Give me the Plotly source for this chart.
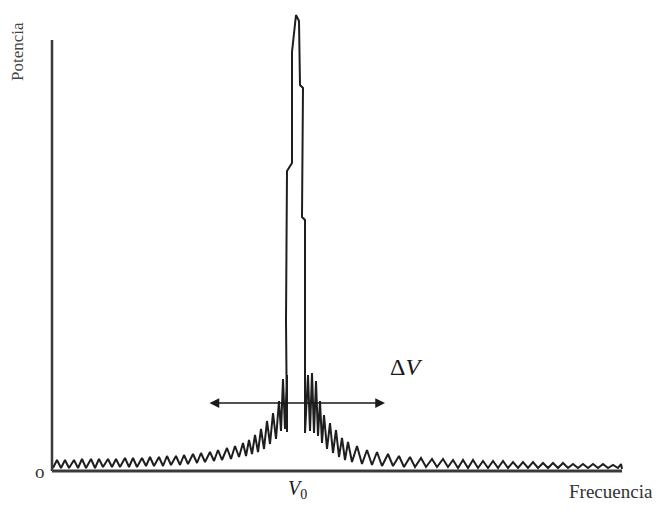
import plotly.graph_objects as go

# Spectrum trace (frequency, power) in arbitrary units
frecuencia = [
    1, 5, 9, 13, 17, 22, 26, 30, 34, 39, 43, 47, 51, 56, 60, 64, 68, 73, 77, 81,
    85, 90, 94, 98, 102, 107, 111, 115, 119, 124, 128, 132, 136, 141, 145, 149,
    153, 158, 162, 166, 170, 175, 179, 183, 187, 191, 194, 197, 200, 203, 206,
    209, 212, 215, 218, 221, 224, 227, 229, 231, 233, 235,
    235, 234, 235, 240, 240, 244, 247, 248, 251, 250, 253, 253,
    256, 258, 260, 262, 264, 266, 268, 270, 272, 275, 278, 281, 284, 287, 290,
    293, 296, 300, 305, 310, 315, 320, 325, 330, 336, 341, 347, 352, 358, 363,
    369, 374, 380, 385, 391, 396, 401, 406, 411, 416, 421, 426, 431, 436, 441,
    446, 451, 456, 461, 466, 471, 476, 481, 486, 491, 496, 501, 506, 511, 516,
    521, 526, 531, 536, 541, 546, 551, 556, 561, 566, 569, 570,
]
potencia = [
    3, 11, 3, 11, 3, 11, 3, 12, 3, 12, 3, 12, 4, 12, 4, 12, 4, 13, 4, 13,
    4, 13, 5, 14, 5, 14, 5, 15, 6, 15, 6, 16, 7, 17, 8, 18,
    9, 19, 10, 21, 11, 23, 12, 25, 14, 28, 15, 31, 17, 36, 19,
    42, 22, 50, 27, 58, 32, 70, 40, 92, 42, 96,
    39, 150, 300, 308, 419, 456, 450, 386, 383, 254, 251, 38,
    96, 40, 98, 38, 90, 35, 70, 28, 56, 22, 48, 18, 41, 14, 33,
    11, 29, 9, 25, 7, 21, 6, 19, 5, 17, 5, 15, 4, 14, 4,
    13, 4, 12, 4, 12, 4, 11, 3, 11, 3, 11, 3, 10, 3, 10,
    3, 10, 3, 9, 3, 9, 3, 9, 3, 8, 3, 8, 3, 8, 3,
    7, 3, 7, 3, 7, 3, 7, 3, 6, 3, 7, 2,
]

# Axis extents and annotation anchors (arbitrary units)
eje_x_max = 570
eje_y_max = 431
delta_v_izq = 156
delta_v_der = 333
delta_v_nivel = 68

fig = go.Figure()
fig.add_trace(go.Scatter(
    x=frecuencia, y=potencia, mode="lines",
    line=dict(color="#1e1e1e", width=2),
    hoverinfo="skip", showlegend=False,
))

# Axes drawn as lines
fig.add_shape(type="line", x0=0, x1=0, y0=0, y1=eje_y_max, xref="x", yref="y",
              line=dict(color="#3a3a3a", width=2.5))
fig.add_shape(type="line", x0=0, x1=eje_x_max, y0=0, y1=0, xref="x", yref="y",
              line=dict(color="#3a3a3a", width=3))

serif = "Liberation Serif"

# Double arrow for ΔV
fig.add_annotation(x=delta_v_der, y=delta_v_nivel, ax=delta_v_izq, ay=delta_v_nivel,
                   xref="x", yref="y", axref="x", ayref="y", text="",
                   showarrow=True, arrowhead=2, arrowside="end+start",
                   arrowsize=1.3, arrowwidth=1.5, arrowcolor="#1a1a1a")

fig.add_annotation(x=354, y=104, xref="x", yref="y", text="Δ<i>V</i>",
                   showarrow=False, font=dict(family=serif, size=24, color="#1a1a1a"))


def px_to_paper(px, py):
    return (px - 47) / 580, (476 - py) / 465


# Texts outside the plot area (paper coordinates)
for text, (px, py), size, color, angle in [
    ("<i>V</i><sub>0</sub>", (297, 489), 20, "#1a1a1a", 0),
    ("Frecuencia", (611, 491), 19, "#333333", 0),
    ("o", (40, 471), 19, "#333333", 0),
    ("Potencia", (18, 52), 17, "#444444", -90),
]:
    xp, yp = px_to_paper(px, py)
    fig.add_annotation(x=xp, y=yp, xref="paper", yref="paper", text=text,
                       xanchor="center", yanchor="middle", textangle=angle,
                       showarrow=False, font=dict(family=serif, size=size, color=color))

fig.update_layout(
    width=657, height=512,
    margin=dict(l=39, r=38, t=3, b=44),
    paper_bgcolor="white", plot_bgcolor="white",
    xaxis=dict(range=[-5, 575], visible=False, fixedrange=True),
    yaxis=dict(range=[-5, 460], visible=False, fixedrange=True),
)

fig.write_html("out.html")
